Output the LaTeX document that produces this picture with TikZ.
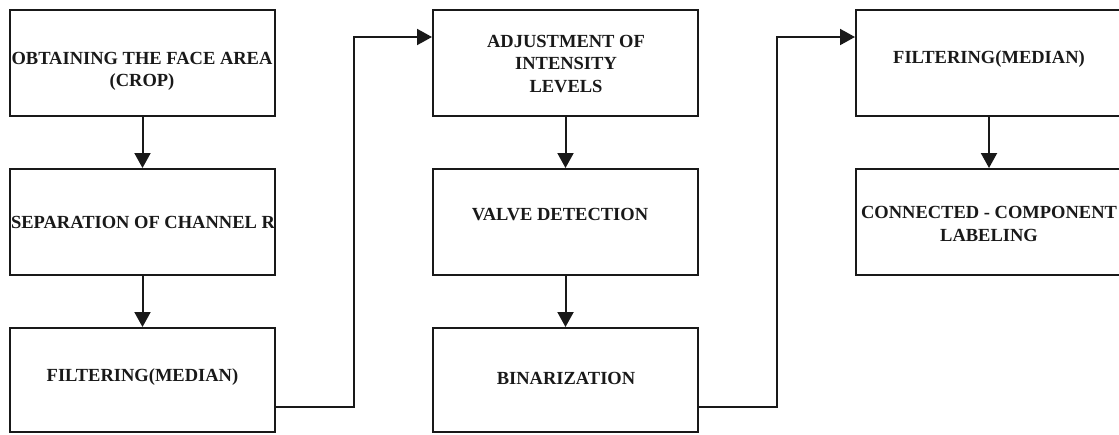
\documentclass[tikz,border=0pt]{standalone}
\usepackage{fontspec}
\setmainfont{Liberation Serif}
\usetikzlibrary{arrows.meta}
\begin{document}
\begin{tikzpicture}[x=1pt,y=-1pt,
  box/.style={draw=black!90, line width=2pt, rectangle, minimum width=265pt, minimum height=106pt, inner sep=0pt},
  lbl/.style={font=\fontsize{18.5}{22.5}\selectfont\bfseries, align=center, inner sep=0pt, text=black!90},
  conn/.style={draw=black!90, line width=2pt, -{Triangle[length=15pt,width=16pt]}},
  wire/.style={draw=black!90, line width=2pt}]
\useasboundingbox (0,0) rectangle (1119,434);
\clip (0,0) rectangle (1119,434);
% boxes
\node[box] (a1) at (142.5,63) {};
\node[box] (a2) at (142.5,222) {};
\node[box, minimum height=104pt] (a3) at (142.5,380) {};
\node[box] (b1) at (565.5,63) {};
\node[box] (b2) at (565.5,222) {};
\node[box, minimum height=104pt] (b3) at (565.5,380) {};
\node[box, minimum width=266pt] (c1) at (989,63) {};
\node[box, minimum width=266pt] (c2) at (989,222) {};
% labels
\node[lbl] (ta1) at (142,71.5) {OBTAINING THE FACE AREA\\(CROP)};
\node[lbl] (ta2) at (143,222) {SEPARATION OF CHANNEL R};
\node[lbl] (ta3) at (142.5,377) {FILTERING(MEDIAN)};
\node[lbl] (tb1) at (566,64) {ADJUSTMENT OF\\INTENSITY\\LEVELS};
\node[lbl] (tb2) at (560,215) {VALVE DETECTION};
\node[lbl] (tb3) at (566,378) {BINARIZATION};
\node[lbl] (tc1) at (989,59) {FILTERING(MEDIAN)};
\node[lbl] (tc2) at (989,224) {CONNECTED - COMPONENT\\LABELING};
% vertical arrows
\draw[conn] (a1.south) -- (a2.north);
\draw[conn] (a2.south) -- (a3.north);
\draw[conn] (b1.south) -- (b2.north);
\draw[conn] (b2.south) -- (b3.north);
\draw[conn] (c1.south) -- (c2.north);
% elbow connectors
\coordinate (e1) at (354,407);
\coordinate (e2) at (354,37);
\coordinate (f1) at (777,407);
\coordinate (f2) at (777,37);
\draw[conn] (a3.east |- e1) -- (e1) -- (e2) -- (b1.west |- e2);
\draw[conn] (b3.east |- f1) -- (f1) -- (f2) -- (c1.west |- f2);
\end{tikzpicture}
\end{document}
